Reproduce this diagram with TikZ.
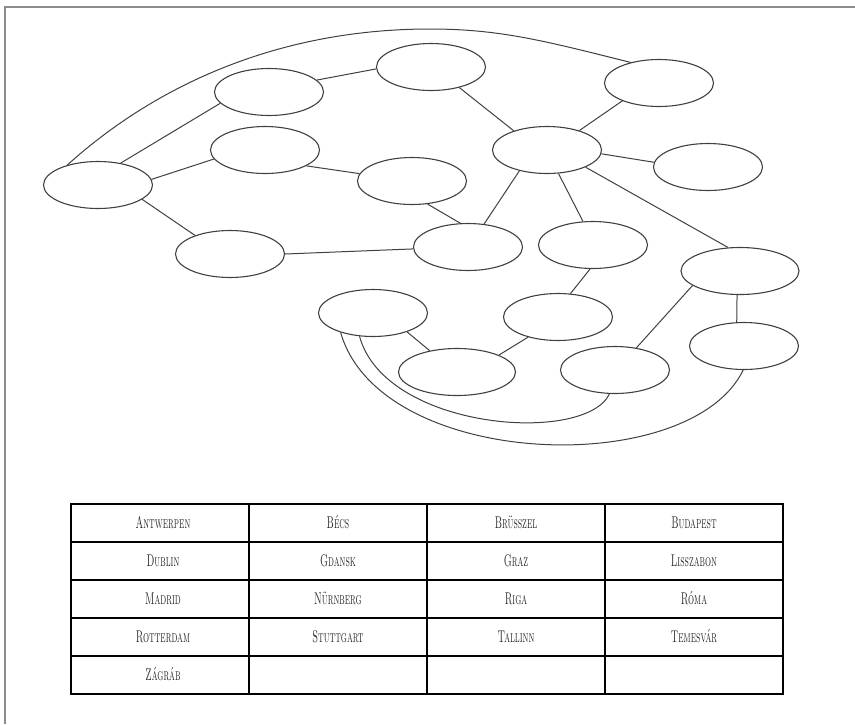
\documentclass[tikz,border=0pt]{standalone}
\usepackage{graphicx}
\usepackage{tikz}
\usetikzlibrary{shapes.geometric}
\newcommand{\city}[1]{\scalebox{0.56}[1]{\textsc{#1}}}

\begin{document}
\begin{tikzpicture}[x=1pt, y=-1pt,
    town/.style={ellipse, draw=black!75, line width=1.1pt, minimum width=109pt, minimum height=47pt, inner sep=0pt},
    road/.style={draw=black!75, line width=1pt},
    townname/.style={text=black!85, font=\fontsize{17}{19}\selectfont, text height=11pt, text depth=1pt, inner sep=0pt}]
      \useasboundingbox (0,0) rectangle (855,724);
      \draw[black!45, line width=1.5pt] (855,7) -- (5,7) -- (5,724);

      % the empty places
      \draw (98,185) node[town] (v1) {};
      \draw (269,92) node[town] (v2) {};
      \draw (265,150) node[town] (v3) {};
      \draw (431,67) node[town] (v4) {};
      \draw (412,181) node[town] (v5) {};
      \draw (230,254) node[town] (v6) {};
      \draw (468,247) node[town] (v7) {};
      \draw (547,150) node[town] (v8) {};
      \draw (659,83) node[town] (v9) {};
      \draw (708,167) node[town] (v10) {};
      \draw (593,245) node[town] (v11) {};
      \draw (740,271) node[town, minimum width=118pt] (v12) {};
      \draw (373,313) node[town] (v13) {};
      \draw (558,317) node[town] (v14) {};
      \draw (744,346) node[town] (v15) {};
      \draw (457,372) node[town, minimum width=117pt] (v16) {};
      \draw (615,370) node[town] (v17) {};

      % roads
      \draw[road] (v1.44) -- (v2.193);
      \draw[road] (v1.6) -- (v3.190);
      \draw[road] (v1.-18) -- (v6.152);
      \draw[road] (v1.147) .. controls (157,84) and (280,29) .. (430,29)
                  .. controls (500,29) and (545,41) .. (v9.144);
      \draw[road] (v2.14) -- (v4.182);
      \draw[road] (v3.-21) -- (v5.172);
      \draw[road] (v4.-36) -- (v8.150);
      \draw[road] (v5.-56) -- (v7.108);
      \draw[road] (v6.0) -- (v7.182);
      \draw[road] (v8.217) -- (v7.55);
      \draw[road] (v8.-64) -- (v11.113);
      \draw[road] (v8.-24) -- (v12.117);
      \draw[road] (v8.31) -- (v9.206);
      \draw[road] (v8.-4) -- (v10.175);
      \draw[road] (v11.263) -- (v14.62);
      \draw[road] (v12.263) -- (v15.107);
      \draw[road] (v12.197) -- (v17.46);
      \draw[road] (v13.-29) -- (v16.142);
      \draw[road] (v14.214) -- (v16.22);
      \draw[road] (v13.211) .. controls (380,470) and (690,480) .. (v15.268);
      \draw[road] (v13.240) .. controls (385,430) and (585,445) .. (v17.257);

      % table of the towns
      \draw[line width=1.4pt] (71,504) rectangle (783,694);
      \draw[line width=1.4pt] (71,542) -- (783,542);
      \draw[line width=1.4pt] (71,580) -- (783,580);
      \draw[line width=1.4pt] (71,618) -- (783,618);
      \draw[line width=1.4pt] (71,656) -- (783,656);
      \draw[line width=1.4pt] (249,504) -- (249,694);
      \draw[line width=1.4pt] (427,504) -- (427,694);
      \draw[line width=1.4pt] (605,504) -- (605,694);

      \draw (163,523) node[townname] (antw) {\city{Antwerpen}};
      \draw (338,523) node[townname] (becs) {\city{Bécs}};
      \draw (516,523) node[townname] (brus) {\city{Brüsszel}};
      \draw (694,523) node[townname] (buda) {\city{Budapest}};
      \draw (163,561) node[townname] (dubl) {\city{Dublin}};
      \draw (338,561) node[townname] (gdan) {\city{Gdansk}};
      \draw (516,561) node[townname] (graz) {\city{Graz}};
      \draw (694,561) node[townname] (liss) {\city{Lisszabon}};
      \draw (163,599) node[townname] (madr) {\city{Madrid}};
      \draw (338,599) node[townname] (nurn) {\city{Nürnberg}};
      \draw (516,599) node[townname] (riga) {\city{Riga}};
      \draw (694,599) node[townname] (roma) {\city{Róma}};
      \draw (163,637) node[townname] (rott) {\city{Rotterdam}};
      \draw (338,637) node[townname] (stut) {\city{Stuttgart}};
      \draw (516,637) node[townname] (tall) {\city{Tallinn}};
      \draw (694,637) node[townname] (teme) {\city{Temesvár}};
      \draw (163,675) node[townname] (zagr) {\city{Zágráb}};
    \end{tikzpicture}
\end{document}
